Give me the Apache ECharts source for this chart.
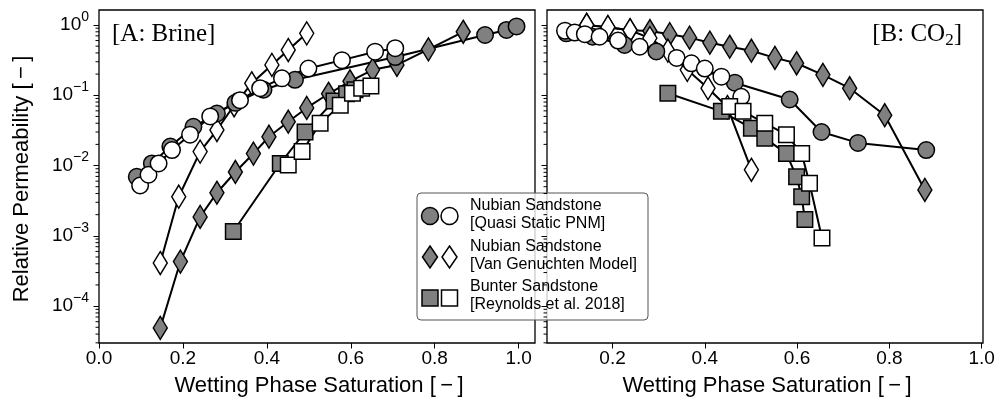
<!DOCTYPE html>
<html><head><meta charset="utf-8">
<script src="https://cdn.jsdelivr.net/npm/echarts@6/dist/echarts.min.js"></script>
<style>html,body{margin:0;padding:0;background:#fff}#c{width:1000px;height:407px}</style>
</head><body><div id="c"></div>
<script>
// ---------- DATA (wetting phase saturation, relative permeability) ----------
// Panel A: Brine
const brinePnmGraySw = [0.090, 0.126, 0.170, 0.225, 0.281, 0.325, 0.392, 0.467, 0.706, 0.920, 0.971, 0.995];
const brinePnmGrayKr = [6.9e-3, 1.07e-2, 1.86e-2, 3.55e-2, 5.5e-2, 7.8e-2, 0.12, 0.166, 0.35, 0.72, 0.85, 0.955];
const brinePnmWhiteSw = [0.098, 0.118, 0.142, 0.174, 0.217, 0.265, 0.336, 0.384, 0.436, 0.499, 0.579, 0.658, 0.706];
const brinePnmWhiteKr = [5.2e-3, 7.4e-3, 1.07e-2, 1.66e-2, 2.75e-2, 5.0e-2, 8.5e-2, 0.126, 0.174, 0.24, 0.316, 0.417, 0.468];
const brineVgGraySw = [0.146, 0.194, 0.241, 0.281, 0.325, 0.368, 0.405, 0.451, 0.495, 0.547, 0.598, 0.652, 0.710, 0.785, 0.868];
const brineVgGrayKr = [4.9e-5, 4.3e-4, 1.86e-3, 4.1e-3, 8.1e-3, 1.48e-2, 2.57e-2, 4.2e-2, 6.6e-2, 0.105, 0.158, 0.23, 0.27, 0.45, 0.80];
const brineVgWhiteSw = [0.146, 0.190, 0.241, 0.281, 0.322, 0.364, 0.412, 0.451, 0.495];
const brineVgWhiteKr = [4.1e-4, 3.6e-3, 1.58e-2, 3.2e-2, 7.2e-2, 0.148, 0.27, 0.44, 0.76];
const brineRegGraySw = [0.320, 0.432, 0.491, 0.560, 0.590, 0.610];
const brineRegGrayKr = [1.15e-3, 1.07e-2, 3.0e-2, 8.3e-2, 0.105, 0.12];
const brineRegWhiteSw = [0.451, 0.484, 0.527, 0.575, 0.604, 0.626, 0.648];
const brineRegWhiteKr = [1.02e-2, 1.58e-2, 3.98e-2, 7.2e-2, 0.107, 0.126, 0.135];

// Panel B: CO2
const co2PnmGraySw = [0.100, 0.157, 0.226, 0.295, 0.465, 0.584, 0.653, 0.732, 0.880];
const co2PnmGrayKr = [0.76, 0.68, 0.52, 0.42, 0.151, 8.7e-2, 3.0e-2, 2.1e-2, 1.66e-2];
const co2PnmWhiteSw = [0.097, 0.118, 0.140, 0.172, 0.212, 0.259, 0.339, 0.371, 0.400, 0.436, 0.479];
const co2PnmWhiteKr = [0.83, 0.78, 0.74, 0.68, 0.60, 0.49, 0.34, 0.285, 0.24, 0.184, 9.5e-2];
const co2VgGraySw = [0.144, 0.190, 0.238, 0.281, 0.324, 0.367, 0.411, 0.454, 0.501, 0.552, 0.599, 0.656, 0.714, 0.790, 0.877];
const co2VgGrayKr = [1.0, 0.93, 0.84, 0.82, 0.74, 0.66, 0.56, 0.49, 0.43, 0.34, 0.285, 0.195, 0.126, 0.052, 4.5e-3];
const co2VgWhiteSw = [0.144, 0.190, 0.238, 0.281, 0.320, 0.362, 0.407, 0.449, 0.501];
const co2VgWhiteKr = [1.0, 0.93, 0.84, 0.65, 0.43, 0.23, 0.126, 0.068, 8.7e-3];
const co2RegGraySw = [0.320, 0.436, 0.501, 0.530, 0.577, 0.599, 0.610, 0.617];
const co2RegGrayKr = [0.107, 5.9e-2, 3.4e-2, 2.45e-2, 1.48e-2, 6.9e-3, 3.6e-3, 1.7e-3];
const co2RegWhiteSw = [0.454, 0.483, 0.530, 0.577, 0.610, 0.627, 0.654];
const co2RegWhiteKr = [6.9e-2, 5.9e-2, 4.0e-2, 2.75e-2, 1.48e-2, 5.6e-3, 9.3e-4];

// Axis ranges and tick labels
const xRangeA = [0.0, 1.039];
const xRangeB = [0.058, 1.003];
const xTicksA = [0.0, 0.2, 0.4, 0.6, 0.8, 1.0];
const xTicksB = [0.2, 0.4, 0.6, 0.8, 1.0];
const yDecades = [-4, -3, -2, -1, 0];            // 10^-4 ... 10^0
const yMinorMant = [2, 3, 4, 5, 6, 7, 8, 9];
const legendTitles = ['Nubian Sandstone\n[Quasi Static PNM]', 'Nubian Sandstone\n[Van Genuchten Model]', 'Bunter Sandstone\n[Reynolds et al. 2018]'];
const xTitle = 'Wetting Phase Saturation [\u2009\u2212\u2009]';
const yTitle = 'Relative Permeability [\u2009\u2212\u2009]';

// ---------- CHART ----------
const SANS = "'Liberation Sans', Arial, sans-serif";
const SERIF = "'Liberation Serif', 'DejaVu Serif', serif";
const GRAY = '#808080';
const yMin = -4.525, yMax = 0.213;
const minorExp = [];
for (let e = -5; e <= 0; e++) yMinorMant.forEach(m => { const v = e + Math.log10(m); if (v > yMin && v < yMax) minorExp.push(v); });

function pts(sw, kr) { return sw.map((s, i) => [s, Math.log10(kr[i])]); }

const tickLine = { color: '#000', width: 1 };
function xAxis(grid, range, ticks) {
  return {
    type: 'value', gridIndex: grid, min: range[0], max: range[1], position: 'bottom',
    axisLine: { show: false, onZero: false }, splitLine: { show: false },
    axisTick: { show: true, customValues: ticks, length: 5.5, lineStyle: tickLine },
    axisLabel: { show: true, customValues: ticks, formatter: v => v.toFixed(1), fontSize: 19, fontFamily: SANS, color: '#000', margin: 6 }
  };
}
function yAxis(grid, showLabels) {
  return {
    type: 'value', gridIndex: grid, min: yMin, max: yMax, position: 'left',
    axisLine: { show: false, onZero: false }, splitLine: { show: false },
    axisTick: { show: true, customValues: yDecades, length: 5.5, lineStyle: tickLine },
    axisLabel: {
      show: showLabels, customValues: yDecades, margin: 10,
      formatter: v => '{b|10}{s|' + (v === 0 ? '0' : '\u2212' + (-v)) + '}',
      rich: {
        b: { fontSize: 19, fontFamily: SANS, color: '#000', lineHeight: 30 },
        s: { fontSize: 14, fontFamily: SANS, color: '#000', lineHeight: 14, verticalAlign: 'top' }
      }
    }
  };
}
// minor log ticks drawn through the axis scale
function minorTicks(grid, range) {
  return {
    type: 'custom', coordinateSystem: 'cartesian2d', xAxisIndex: grid, yAxisIndex: grid, clip: false, silent: true, z: 5,
    encode: { x: 0, y: 1 },
    data: minorExp.map(v => [range[0], v]),
    renderItem: (params, api) => {
      const p = api.coord([api.value(0), api.value(1)]);
      return { type: 'line', shape: { x1: p[0] - 3.5, y1: p[1], x2: p[0], y2: p[1] }, style: { stroke: '#000', lineWidth: 1, fill: null } };
    }
  };
}

function ser(grid, sw, kr, symbol, size, fill) {
  return {
    type: 'line', xAxisIndex: grid, yAxisIndex: grid, data: pts(sw, kr),
    symbol: symbol, symbolSize: size, showSymbol: true, showAllSymbol: true,
    lineStyle: { color: '#000', width: 2 },
    itemStyle: { color: fill, borderColor: '#000', borderWidth: 1.5, opacity: 1 },
    emphasis: { disabled: true }, silent: true, animation: false, clip: true
  };
}
const CIRC = 16.5, DIA = [14, 23], SQ = 15.5;
const series = [
  ser(0, brineVgGraySw, brineVgGrayKr, 'diamond', DIA, GRAY),
  ser(0, brineVgWhiteSw, brineVgWhiteKr, 'diamond', DIA, '#fff'),
  ser(0, brinePnmGraySw, brinePnmGrayKr, 'circle', CIRC, GRAY),
  ser(0, brinePnmWhiteSw, brinePnmWhiteKr, 'circle', CIRC, '#fff'),
  ser(0, brineRegGraySw, brineRegGrayKr, 'rect', SQ, GRAY),
  ser(0, brineRegWhiteSw, brineRegWhiteKr, 'rect', SQ, '#fff'),
  ser(1, co2VgGraySw, co2VgGrayKr, 'diamond', DIA, GRAY),
  ser(1, co2VgWhiteSw, co2VgWhiteKr, 'diamond', DIA, '#fff'),
  ser(1, co2PnmGraySw, co2PnmGrayKr, 'circle', CIRC, GRAY),
  ser(1, co2PnmWhiteSw, co2PnmWhiteKr, 'circle', CIRC, '#fff'),
  ser(1, co2RegGraySw, co2RegGrayKr, 'rect', SQ, GRAY),
  ser(1, co2RegWhiteSw, co2RegWhiteKr, 'rect', SQ, '#fff'),
  minorTicks(0, xRangeA),
  minorTicks(1, xRangeB)
];

const mk = { stroke: '#000', lineWidth: 1.5 };
function diamondPts(cx, cy, w, h) { return [[cx, cy - h / 2], [cx + w / 2, cy], [cx, cy + h / 2], [cx - w / 2, cy]]; }
const legendEls = [
  { type: 'rect', shape: { x: 417, y: 193, width: 231, height: 127, r: 4 }, style: { fill: 'rgba(255,255,255,0.8)', stroke: '#555', lineWidth: 1 } },
  { type: 'circle', shape: { cx: 430, cy: 216, r: 8.5 }, style: Object.assign({ fill: GRAY }, mk) },
  { type: 'circle', shape: { cx: 449.5, cy: 216, r: 8.5 }, style: Object.assign({ fill: '#fff' }, mk) },
  { type: 'polygon', shape: { points: diamondPts(430, 257, 15, 22) }, style: Object.assign({ fill: GRAY }, mk) },
  { type: 'polygon', shape: { points: diamondPts(449.5, 257, 15, 22) }, style: Object.assign({ fill: '#fff' }, mk) },
  { type: 'rect', shape: { x: 422, y: 290, width: 16, height: 16 }, style: Object.assign({ fill: GRAY }, mk) },
  { type: 'rect', shape: { x: 441.5, y: 290, width: 16, height: 16 }, style: Object.assign({ fill: '#fff' }, mk) }
];
[215, 256, 296].forEach((cy, i) => legendEls.push({
  type: 'text', x: 470, y: cy,
  style: { text: legendTitles[i], font: '16px ' + SANS, fill: '#000', lineHeight: 18, textAlign: 'left', textVerticalAlign: 'middle' }
}));

const chart = echarts.init(document.getElementById('c'), null, { renderer: 'canvas' });
chart.setOption({
  animation: false,
  backgroundColor: '#fff',
  grid: [
    { left: 99, top: 10, width: 436, height: 333, show: true, borderColor: '#000', borderWidth: 1.3, backgroundColor: 'transparent' },
    { left: 547, top: 10, width: 436, height: 333, show: true, borderColor: '#000', borderWidth: 1.3, backgroundColor: 'transparent' }
  ],
  xAxis: [xAxis(0, xRangeA, xTicksA), xAxis(1, xRangeB, xTicksB)],
  yAxis: [yAxis(0, true), yAxis(1, false)],
  series: series,
  graphic: [
    { type: 'text', x: 22, y: 179, rotation: Math.PI / 2, style: { text: yTitle, font: '22px ' + SANS, fill: '#000', textAlign: 'center', textVerticalAlign: 'middle' } },
    { type: 'text', x: 319, y: 386, style: { text: xTitle, font: '22px ' + SANS, fill: '#000', textAlign: 'center', textVerticalAlign: 'middle' } },
    { type: 'text', x: 767, y: 386, style: { text: xTitle, font: '22px ' + SANS, fill: '#000', textAlign: 'center', textVerticalAlign: 'middle' } },
    { type: 'text', x: 112, y: 34, style: { text: '[A: Brine]', font: '25px ' + SERIF, fill: '#000', textAlign: 'left', textVerticalAlign: 'middle' } },
    { type: 'text', x: 962, y: 34, style: {
        text: '{n|[B: CO}{sub|2}{n|]}', textAlign: 'right', textVerticalAlign: 'middle',
        rich: { n: { font: '25px ' + SERIF, fill: '#000', lineHeight: 30, verticalAlign: 'middle' },
                sub: { font: '17px ' + SERIF, fill: '#000', lineHeight: 17, verticalAlign: 'bottom' } } } },
    { type: 'group', z: 100, children: legendEls }
  ]
});
</script>
</body></html>
